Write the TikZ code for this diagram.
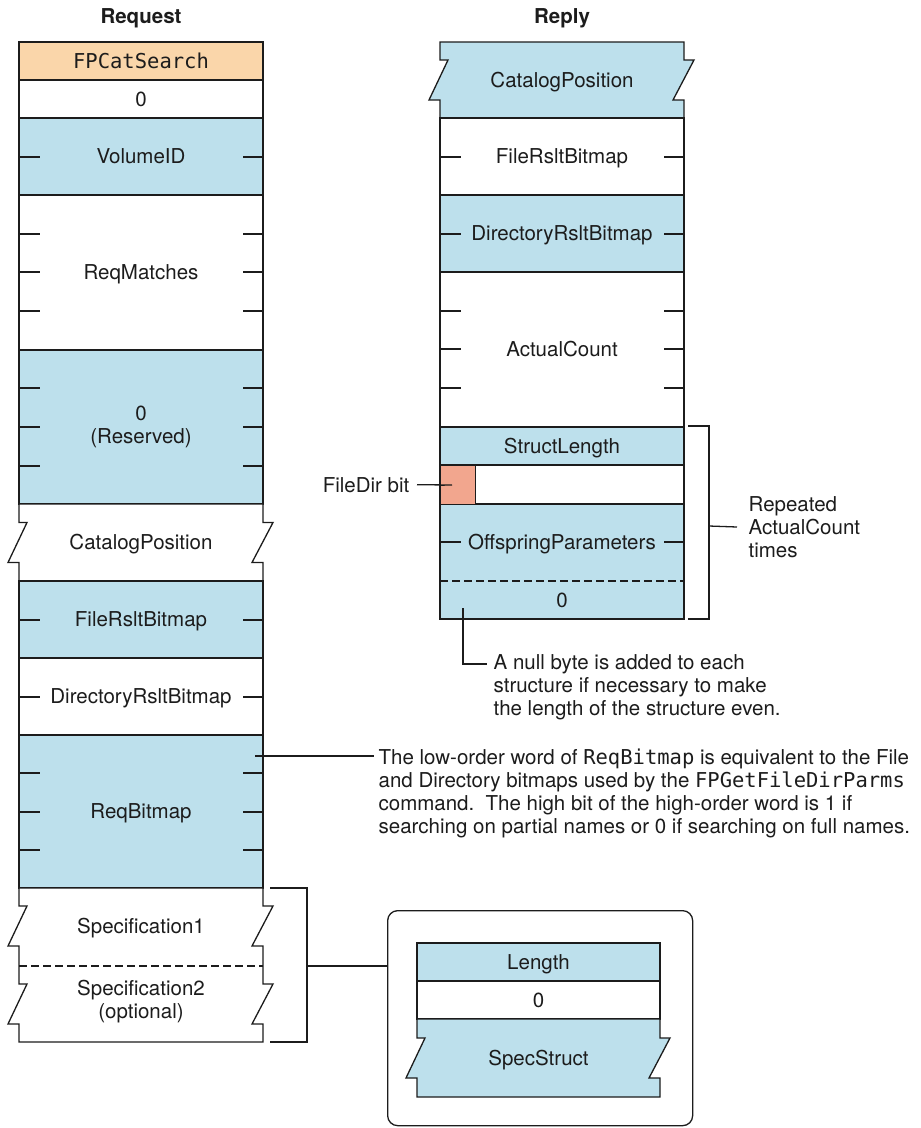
\documentclass[tikz,border=0pt]{standalone}
\usepackage{fontspec}
\setmainfont{TeX Gyre Heros}
\setmonofont{DejaVu Sans Mono}
\usetikzlibrary{calc}
\definecolor{ink}{RGB}{28,28,28}
\definecolor{fieldblue}{RGB}{189,224,236}
\definecolor{cmdorange}{RGB}{250,214,170}
\definecolor{bitsalmon}{RGB}{242,166,142}

% plain field: x1, y1, x2, y2, fill, node name, label
\newcommand\wordrow[7]{%
  \filldraw[fill=#5] (#1,#2) rectangle (#3,#4);
  \node[lbl] (#6) at ({(#1+#3)/2},{(#2+#4)/2+7}) {#7};}
% variable-length field with broken sides
\newcommand\zigrow[7]{%
  \pgfmathsetmacro\zzmid{(#2+#4)/2}%
  \filldraw[fill=#5] (#1,#2) -- (#3,#2) -- (#3,\zzmid-20) -- (#3+10,\zzmid-20)
    -- (#3-11,\zzmid+20) -- (#3,\zzmid+20) -- (#3,#4) -- (#1,#4) -- (#1,\zzmid+20)
    -- (#1-11,\zzmid+20) -- (#1+8,\zzmid-20) -- (#1,\zzmid-20) -- cycle;
  \node[lbl] (#6) at ({(#1+#3)/2},\zzmid+7) {#7};}
% byte ticks on both sides of a field
\newcommand\sideticks[3]{%
  \foreach \ty in {#3}{\draw (#1,\ty) -- ++(21,0) (#2,\ty) -- ++(-20,0);}}

\begin{document}
\begin{tikzpicture}[x=1pt,y=-1pt,line width=1.3pt,color=ink,
  every node/.style={inner sep=0pt},
  lbl/.style={font=\fontsize{20.5}{23}\selectfont,align=center,anchor=base},
  hdr/.style={font=\bfseries\fontsize{20.5}{23}\selectfont,anchor=base},
  note/.style={font=\fontsize{20.5}{23}\selectfont,align=left,anchor=north west},
  gapdash/.style={dash pattern=on 8pt off 4pt}]
\useasboundingbox (0,0) rectangle (921,1128);

% ---------------- request block ----------------
\node[hdr] (reqhead) at (141,23) {Request};
\wordrow{19}{42}{263}{80}{cmdorange}{cmd}{\ttfamily FPCatSearch}
\wordrow{19}{80}{263}{118}{white}{pad}{0}
\wordrow{19}{118}{263}{195}{fieldblue}{volid}{VolumeID}
\sideticks{19}{263}{157}
\wordrow{19}{195}{263}{350}{white}{reqmatch}{ReqMatches}
\sideticks{19}{263}{234,272,311}
\filldraw[fill=fieldblue] (19,350) rectangle (263,504);
\node[lbl,anchor=center] (reserved) at (141,427) {0\\(Reserved)};
\sideticks{19}{263}{388,427,466}
\zigrow{19}{504}{263}{581}{white}{catpos}{CatalogPosition}
\wordrow{19}{581}{263}{658}{fieldblue}{filebm}{FileRsltBitmap}
\sideticks{19}{263}{620}
\wordrow{19}{658}{263}{735}{white}{dirbm}{DirectoryRsltBitmap}
\sideticks{19}{263}{697}
\wordrow{19}{735}{263}{888}{fieldblue}{reqbm}{ReqBitmap}
\sideticks{19}{263}{773,812,850}

% specifications
\filldraw[fill=white] (19,888) -- (263,888) -- (263,906) -- (273,906) -- (252,946)
  -- (263,946) -- (263,984) -- (273,984) -- (252,1024) -- (263,1024) -- (263,1042)
  -- (19,1042) -- (19,1024) -- (8,1024) -- (27,984) -- (19,984) -- (19,946)
  -- (8,946) -- (27,906) -- (19,906) -- cycle;
\draw[gapdash] (19,966) -- (263,966);
\node[lbl] (spec1) at (141,933) {Specification1};
\node[lbl,anchor=center] (spec2) at (141,1002) {Specification2\\(optional)};

% ---------------- reply block ----------------
\node[hdr] (rephead) at (562,23) {Reply};
\zigrow{440}{42}{684}{118}{fieldblue}{rcatpos}{CatalogPosition}
\wordrow{440}{118}{684}{195}{white}{rfilebm}{FileRsltBitmap}
\sideticks{440}{684}{157}
\wordrow{440}{195}{684}{272}{fieldblue}{rdirbm}{DirectoryRsltBitmap}
\sideticks{440}{684}{234}
\wordrow{440}{272}{684}{427}{white}{actcnt}{ActualCount}
\sideticks{440}{684}{311,349,388}
\wordrow{440}{427}{684}{465}{fieldblue}{structlen}{StructLength}
\filldraw[fill=white] (440,465) rectangle (684,504);
\filldraw[fill=fieldblue] (440,504) rectangle (684,619);
\node[lbl] (offspring) at (562,549) {OffspringParameters};
\sideticks{440}{684}{542}
\draw[gapdash] (440,581) -- (684,581);
\node[lbl] (nullpad) at (562,607) {0};

% FileDir bit
\node[lbl,anchor=base east] (fdlabel) at (410,492) {FileDir bit};
\draw ([xshift=7pt]fdlabel.east) -- (452,485);
\node[draw,fill=bitsalmon,minimum width=35,minimum height=39,anchor=north west] (fdbit) at (440,465) {};
\draw (452,485) -- (fdbit.west);

% repeated structure bracket
\coordinate (reptop) at (688,426);
\coordinate (repbot) at (688,619);
\draw (reptop) -- ++(21,0) |- (repbot);
\node[note,anchor=west] (repnote) at (748,527) {Repeated\\ActualCount\\times};
\draw (709,526) -- ([xshift=-11pt]repnote.west);

% null byte note
\node[note] (nullnote) at (493,654) {A null byte is added to each\\structure if necessary to make\\the length of the structure even.};
\coordinate (nulltap) at (463,608);
\draw (nulltap) |- ([xshift=-6pt,yshift=-10pt]nullnote.north west);

% ReqBitmap note
\node[note] (rbnote) at (378,748) {The low-order word of \texttt{ReqBitmap} is equivalent to the File\\and Directory bitmaps used by the \texttt{FPGetFileDirParms}\\command.\hspace{0.55em}The high bit of the high-order word is 1 if\\searching on partial names or 0 if searching on full names.};
\coordinate (rbtap) at (255,756);
\draw (rbtap) -- ([xshift=-4pt]rbtap -| rbnote.west);

% specification structure
\draw (270,888) -- (307,888) -- (307,1042) -- (270,1042);
\node[draw,rounded corners=10pt,minimum width=305,minimum height=215,anchor=north west] (specbox) at (387,910) {};
\draw (307,966) -- (307,966 -| specbox.west);
\wordrow{417}{943}{660}{981}{fieldblue}{slen}{Length}
\wordrow{417}{981}{660}{1019}{white}{spad}{0}
\zigrow{417}{1019}{660}{1097}{fieldblue}{sstruct}{SpecStruct}
\end{tikzpicture}
\end{document}
